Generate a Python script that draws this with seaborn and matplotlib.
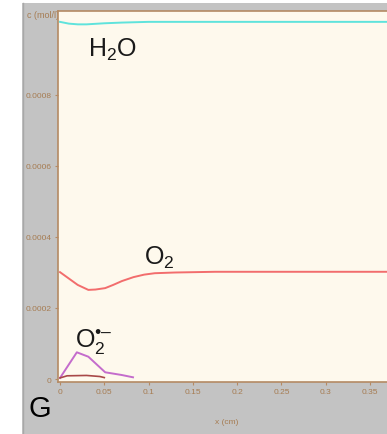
import matplotlib
matplotlib.use("Agg")
import matplotlib.pyplot as plt
import seaborn as sns
from matplotlib.patches import Rectangle
from matplotlib.lines import Line2D

# ---- data ----
x_h2o = [0.0, 0.01, 0.02, 0.03, 0.05, 0.07, 0.1, 0.15, 0.2, 0.25, 0.3, 0.35, 0.37]
c_h2o = [0.001006, 0.001001, 0.000999, 0.000999, 0.001002, 0.001004, 0.001006, 0.001006,
         0.001006, 0.001006, 0.001006, 0.001006, 0.001006]

x_o2 = [0.0, 0.01, 0.02, 0.032, 0.04, 0.051, 0.06, 0.07, 0.083, 0.095, 0.107, 0.13, 0.175, 0.25, 0.3, 0.35, 0.37]
c_o2 = [0.000301, 0.000283, 0.000265, 0.000251, 0.000252, 0.000256, 0.000265, 0.000276, 0.000287,
        0.000294, 0.000298, 0.000300, 0.000302, 0.000302, 0.000302, 0.000302, 0.000302]

x_sup = [0.0, 0.019, 0.032, 0.051, 0.0696, 0.0824]
c_sup = [0.000003, 0.0000752, 0.0000628, 0.0000189, 0.0000113, 0.0000048]

x_h2o2 = [0.0, 0.008, 0.03, 0.045, 0.05]
c_h2o2 = [0.000003, 0.000009, 0.00001, 0.000007, 0.000004]

x_ticks = [0, 0.05, 0.1, 0.15, 0.2, 0.25, 0.3, 0.35]
x_ticklabels = ["0", "0.05", "0.1", "0.15", "0.2", "0.25", "0.3", "0.35"]
y_ticks = [0, 0.0002, 0.0004, 0.0006, 0.0008]
y_ticklabels = ["0", "0.0002", "0.0004", "0.0006", "0.0008"]

# ---- style ----
plt.rcParams['font.family'] = ['Liberation Sans', 'DejaVu Sans']
plt.rcParams['mathtext.fontset'] = 'custom'
plt.rcParams['mathtext.rm'] = 'Liberation Sans'
plt.rcParams['mathtext.it'] = 'Liberation Sans'
plt.rcParams['mathtext.bf'] = 'Liberation Sans:bold'

W, H = 387, 435
fig = plt.figure(figsize=(W / 100, H / 100), dpi=100, facecolor='white')

def fx(px):
    return px / W

def fy(py):
    return 1 - py / H

# gray panel
fig.patches.append(Rectangle((fx(22), 0), fx(W - 22), fy(4), transform=fig.transFigure,
                             facecolor='#c3c3c3', edgecolor='none', zorder=-10))
fig.add_artist(Line2D([fx(22.5), fx(22.5)], [0, fy(4)], transform=fig.transFigure,
                      color='#a8a8a8', lw=1, zorder=-9))

ax = fig.add_axes([fx(58), fy(383), 1 - fx(58), fy(12) - fy(383)])
ax.set_facecolor('#fef9ed')

brown = '#b48a64'
tickc = '#a67c52'

sns.lineplot(x=x_h2o, y=c_h2o, ax=ax, color='#5fe3dc', lw=1.4)
sns.lineplot(x=x_o2, y=c_o2, ax=ax, color='#f26d6d', lw=1.4)
sns.lineplot(x=x_sup, y=c_sup, ax=ax, color='#c46ccc', lw=1.4)
sns.lineplot(x=x_h2o2, y=c_h2o2, ax=ax, color='#a84848', lw=1.2)

ax.set_xlim(-0.00226, 0.3691)
ax.set_ylim(-0.00000845, 0.0010366)
ax.set_xticks(x_ticks)
ax.set_xticklabels(x_ticklabels)
ax.set_yticks(y_ticks)
ax.set_yticklabels(y_ticklabels)
ax.tick_params(axis='both', colors=brown, labelcolor=tickc, labelsize=6, length=2.5, width=0.8,
               direction='out', pad=2)
for s in ['left', 'bottom', 'top']:
    ax.spines[s].set_color(brown)
    ax.spines[s].set_linewidth(1.2)
ax.spines['right'].set_visible(False)
ax.set_xlabel('')
ax.set_ylabel('')

# axis labels
fig.text(fx(227), fy(423), 'x (cm)', ha='center', va='center', fontsize=6, color=tickc)
fig.text(fx(27), fy(16), 'c (mol/l)', ha='left', va='center', fontsize=6.5, color=tickc, zorder=-1)

# species labels
fig.text(fx(88), fy(57), 'H$_2$O', ha='left', va='baseline', fontsize=18, color='#1a1a1a')
fig.text(fx(144), fy(265), 'O$_2$', ha='left', va='baseline', fontsize=18, color='#1a1a1a')
fig.text(fx(75), fy(348), 'O$_2^{\u2022\u2013}$', ha='left', va='baseline', fontsize=18, color='#1a1a1a')
fig.text(fx(29), fy(417), 'G', ha='left', va='baseline', fontsize=21, color='black')

fig.savefig('out.png', dpi=100, facecolor='white')
